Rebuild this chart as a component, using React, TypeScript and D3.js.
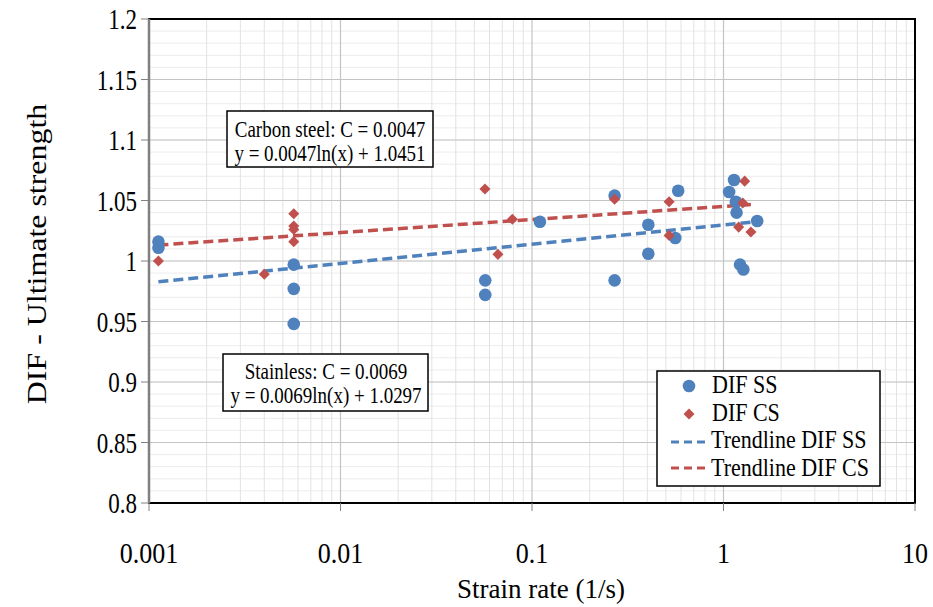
import React from "react";
import * as d3 from "d3";

const ssX = [0.00112, 0.00112, 0.0057, 0.0057, 0.0057, 0.057, 0.057, 0.11, 0.27, 0.27, 0.405, 0.405, 0.56, 0.58, 1.07, 1.135, 1.16, 1.17, 1.5, 1.22, 1.27];
const ssY = [1.016, 1.011, 0.997, 0.977, 0.948, 0.984, 0.972, 1.0325, 1.054, 0.984, 1.03, 1.006, 1.019, 1.058, 1.057, 1.067, 1.049, 1.04, 1.033, 0.997, 0.993];
const csX = [0.00112, 0.004, 0.0057, 0.0057, 0.0057, 0.0057, 0.0568, 0.0664, 0.079, 0.27, 0.52, 0.52, 1.29, 1.26, 1.2, 1.39];
const csY = [1.0, 0.989, 1.039, 1.029, 1.026, 1.016, 1.0595, 1.0055, 1.0345, 1.051, 1.049, 1.021, 1.066, 1.048, 1.028, 1.024];
const ssTrend = { a: 0.0069, b: 1.0297, from: 0.00112, to: 1.5 };
const csTrend = { a: 0.0047, b: 1.0451, from: 0.00112, to: 1.39 };
const yTicks = [0.8, 0.85, 0.9, 0.95, 1, 1.05, 1.1, 1.15, 1.2];
const xTicks = [0.001, 0.01, 0.1, 1, 10];
const legendLabels = ["DIF SS", "DIF CS", "Trendline DIF SS", "Trendline DIF CS"];

const BLUE = "#4F81BD";
const RED = "#C0504D";
const FONT = "'Liberation Serif', 'Times New Roman', serif";

function SText(props: { x: number; y: number; size: number; sy?: number; anchor?: string; children: React.ReactNode }) {
  const { x, y, size, sy = 1, anchor = "start", children } = props;
  return (
    <text transform={`translate(${x},${y}) scale(1,${sy})`} textAnchor={anchor} fontSize={size} fill="#000">
      {children}
    </text>
  );
}

export default function App() {
  const L = 149, R = 915, T = 19, B = 503;
  const x = d3.scaleLog().domain([0.001, 10]).range([L, R]);
  const y = d3.scaleLinear().domain([0.8, 1.2]).range([B, T]);

  const minorX: number[] = [];
  for (let e = -3; e < 1; e++) for (let k = 2; k <= 9; k++) minorX.push(k * Math.pow(10, e));
  const minorY = d3.range(0.8, 1.2001, 0.01);

  const trend = (t: { a: number; b: number; from: number; to: number }) => {
    const pts: [number, number][] = [t.from, t.to].map((v) => [v, t.a * Math.log(v) + t.b]);
    return d3.line<[number, number]>().x((d) => x(d[0])).y((d) => y(d[1]))(pts) || "";
  };
  const diamond = d3.symbol().type(d3.symbolDiamond2).size(78)() || "";
  const dash = "10,5";

  return (
    <svg width={933} height={607} style={{ position: "absolute", left: 0, top: 0, background: "#fff" }} fontFamily={FONT}>
      <rect x={0} y={0} width={933} height={607} fill="#fff" />
      {minorY.map((v, i) => (
        <line key={"my" + i} x1={L} x2={R} y1={y(v)} y2={y(v)} stroke="#ececec" strokeWidth={1} />
      ))}
      {minorX.map((v, i) => (
        <line key={"mx" + i} x1={x(v)} x2={x(v)} y1={T} y2={B} stroke="#e2e2e2" strokeWidth={1} />
      ))}
      {yTicks.map((v, i) => (
        <line key={"gy" + i} x1={L} x2={R} y1={y(v)} y2={y(v)} stroke="#c4c4c4" strokeWidth={1.2} />
      ))}
      {xTicks.map((v, i) => (
        <line key={"gx" + i} x1={x(v)} x2={x(v)} y1={T} y2={B} stroke="#c4c4c4" strokeWidth={1.2} />
      ))}
      <rect x={L} y={T} width={R - L} height={B - T} fill="none" stroke="#000" strokeWidth={2} />
      <line x1={L} x2={L} y1={T} y2={B} stroke="#808080" strokeWidth={2.5} />
      {yTicks.map((v, i) => (
        <g key={"ty" + i}>
          <line x1={L - 8} x2={L} y1={y(v)} y2={y(v)} stroke="#808080" strokeWidth={1} />
          <SText x={137} y={y(v) + 10} size={23} sy={1.3} anchor="end">{String(v)}</SText>
        </g>
      ))}
      {xTicks.map((v, i) => (
        <g key={"tx" + i}>
          <line x1={x(v)} x2={x(v)} y1={B} y2={B + 8} stroke="#808080" strokeWidth={1} />
          <SText x={x(v)} y={563} size={26} sy={1.1} anchor="middle">{String(v)}</SText>
        </g>
      ))}
      <SText x={541} y={598} size={27} sy={1.05} anchor="middle">Strain rate (1/s)</SText>
      <text transform="translate(46,254) rotate(-90) scale(1.14,1)" textAnchor="middle" fontSize={28}>DIF - Ultimate strength</text>

      <path d={trend(ssTrend)} fill="none" stroke={BLUE} strokeWidth={3.5} strokeDasharray={dash} />
      <path d={trend(csTrend)} fill="none" stroke={RED} strokeWidth={3.5} strokeDasharray={dash} />

      {ssX.map((v, i) => (
        <circle key={"ss" + i} cx={x(v)} cy={y(ssY[i])} r={6.3} fill={BLUE} />
      ))}
      {csX.map((v, i) => (
        <path key={"cs" + i} d={diamond} transform={`translate(${x(v)},${y(csY[i])})`} fill={RED} />
      ))}

      <g>
        <rect x={227} y={111} width={206} height={56} fill="#fff" stroke="#000" strokeWidth={1.5} />
        <SText x={330} y={137} size={19} sy={1.2} anchor="middle">Carbon steel: C = 0.0047</SText>
        <SText x={330} y={161} size={19} sy={1.2} anchor="middle">y = 0.0047ln(x) + 1.0451</SText>
      </g>
      <g>
        <rect x={223} y={354} width={205} height={57} fill="#fff" stroke="#000" strokeWidth={1.5} />
        <SText x={326} y={379} size={19} sy={1.2} anchor="middle">Stainless: C = 0.0069</SText>
        <SText x={326} y={403} size={19} sy={1.2} anchor="middle">y = 0.0069ln(x) + 1.0297</SText>
      </g>

      <g>
        <rect x={657} y={371} width={223} height={115} fill="#fff" stroke="#000" strokeWidth={1.5} />
        <circle cx={689} cy={386} r={6.3} fill={BLUE} />
        <path d={diamond} transform="translate(689,414)" fill={RED} />
        <line x1={671} x2={710} y1={442} y2={442} stroke={BLUE} strokeWidth={3} strokeDasharray="8,5" />
        <line x1={671} x2={710} y1={468} y2={468} stroke={RED} strokeWidth={3} strokeDasharray="8,5" />
        {legendLabels.map((s, i) => (
          <SText key={s} x={i < 2 ? 712 : 711} y={393 + i * 27.5} size={22} sy={1.1}>{s}</SText>
        ))}
      </g>
    </svg>
  );
}
